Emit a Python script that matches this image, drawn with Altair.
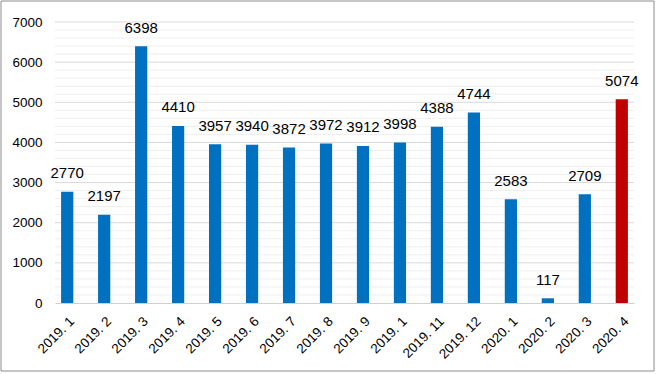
import altair as alt
import pandas as pd

# Monthly values, Jan 2019 to Apr 2020
months = ["2019. 1", "2019. 2", "2019. 3", "2019. 4", "2019. 5", "2019. 6",
          "2019. 7", "2019. 8", "2019. 9", "2019. 1", "2019. 11", "2019. 12",
          "2020. 1", "2020. 2", "2020. 3", "2020. 4"]
values = [2770, 2197, 6398, 4410, 3957, 3940, 3872, 3972, 3912, 3998,
          4388, 4744, 2583, 117, 2709, 5074]
highlight = [False] * 15 + [True]

# Gridline levels: labelled major lines and light minor lines
major_ticks = [0, 1000, 2000, 3000, 4000, 5000, 6000, 7000]
minor_ticks = [v for v in range(200, 7000, 200) if v % 1000 != 0]

df = pd.DataFrame({
    "idx": list(range(len(months))),
    "value": values,
    "hl": highlight,
})

label_array = "[" + ",".join("'" + m + "'" for m in months) + "]"
FONT = "Liberation Sans"
Y_SCALE = alt.Scale(domain=[0, 7000], nice=False)

Y_AXIS = alt.Axis(
    values=major_ticks,
    format="d",
    labelFontSize=13.5,
    labelFont=FONT,
    labelColor="#000000",
    labelPadding=13,
    labelOverlap=False,
    ticks=False,
    domain=False,
    grid=False,
)

x_enc = alt.X(
    "idx:O",
    title=None,
    scale=alt.Scale(paddingInner=0.67, paddingOuter=0.165),
    axis=alt.Axis(
        labelExpr=label_array + "[datum.value]",
        labelAngle=-45,
        labelFontSize=13.5,
        labelFont=FONT,
        labelColor="#000000",
        labelPadding=11,
        labelOverlap=False,
        ticks=False,
        domainColor="#d0d0d0",
        grid=False,
    ),
)

minor_grid = alt.Chart(pd.DataFrame({"v": minor_ticks})).mark_rule(
    color="#eeeeee", strokeWidth=1
).encode(y=alt.Y("v:Q", scale=Y_SCALE, axis=Y_AXIS, title=None))

major_grid = alt.Chart(pd.DataFrame({"v": major_ticks[1:]})).mark_rule(
    color="#d9d9d9", strokeWidth=1
).encode(y=alt.Y("v:Q", scale=Y_SCALE, axis=Y_AXIS, title=None))

bars = alt.Chart(df).mark_bar().encode(
    x=x_enc,
    y=alt.Y("value:Q", scale=Y_SCALE, axis=Y_AXIS, title=None),
    color=alt.Color("hl:N", scale=alt.Scale(domain=[False, True],
                                            range=["#0070C0", "#C00000"]),
                    legend=None),
)

labels = alt.Chart(df).mark_text(
    baseline="alphabetic", dy=-13.5, fontSize=15, font=FONT, color="#000000"
).encode(
    x="idx:O",
    y="value:Q",
    text="value:Q",
)

frame = alt.Chart(pd.DataFrame({"a": [0]})).mark_rect(
    fill=None, stroke="#8c8c8c", strokeWidth=1
).encode(
    x=alt.value(-54), x2=alt.value(599),
    y=alt.value(-21), y2=alt.value(349),
)

chart = alt.layer(minor_grid, major_grid, bars, labels, frame).properties(
    width=579,
    height=281,
    autosize=alt.AutoSizeParams(type="none"),
    padding={"left": 55, "top": 22, "right": 23, "bottom": 71},
    background="#ffffff",
).configure_view(stroke=None)

chart.save("out.html", embed_options={"renderer": "svg", "actions": False})
